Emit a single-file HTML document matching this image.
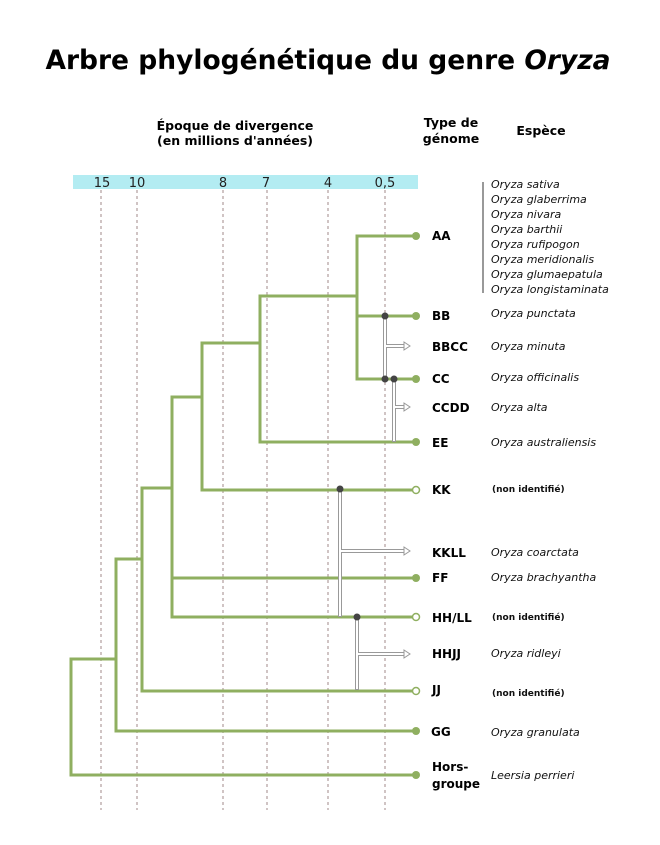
<!DOCTYPE html>
<html><head><meta charset="utf-8"><style>
html,body{margin:0;padding:0;background:#fff}
svg text{font-family:"DejaVu Sans","Liberation Sans",sans-serif}
.g{font-weight:bold;font-size:12px;fill:#000}
.s{font-style:italic;font-size:11px;fill:#111}
.n{font-weight:bold;font-size:9px;fill:#111}
</style></head><body>
<svg width="660" height="840" xmlns="http://www.w3.org/2000/svg">
<text x="328" y="69" text-anchor="middle" style="font-weight:bold;font-size:26.5px">Arbre phylogénétique du genre <tspan font-style="italic">Oryza</tspan></text>
<text x="235" y="130" text-anchor="middle" style="font-weight:bold;font-size:12.5px">Époque de divergence</text>
<text x="235" y="145" text-anchor="middle" style="font-weight:bold;font-size:12.5px">(en millions d'années)</text>
<text x="451" y="127" text-anchor="middle" style="font-weight:bold;font-size:12.5px">Type de</text>
<text x="451" y="143" text-anchor="middle" style="font-weight:bold;font-size:12.5px">génome</text>
<text x="541" y="135" text-anchor="middle" style="font-weight:bold;font-size:12.5px">Espèce</text>
<rect x="73" y="175" width="345" height="14" fill="#b3ecf2"/>
<g font-size="13" text-anchor="middle" fill="#222">
<text x="102" y="187">15</text><text x="137" y="187">10</text><text x="223" y="187">8</text><text x="266" y="187">7</text><text x="328" y="187">4</text><text x="385" y="187">0,5</text></g>
<g stroke="#a08a8a" stroke-width="1" stroke-dasharray="3,3">
<line x1="101" y1="190" x2="101" y2="810"/><line x1="137" y1="190" x2="137" y2="810"/><line x1="223" y1="190" x2="223" y2="810"/><line x1="267" y1="190" x2="267" y2="810"/><line x1="328" y1="190" x2="328" y2="810"/><line x1="385" y1="190" x2="385" y2="810"/></g>
<g stroke="#8faf60" stroke-width="3" fill="none">
<polyline points="416,236 357,236 357,379 416,379"/>
<line x1="357" y1="316" x2="416" y2="316"/>
<polyline points="357,296 260,296 260,442 416,442"/>
<polyline points="260,343 202,343 202,490 416,490"/>
<polyline points="202,397 172,397 172,617 416,617"/>
<line x1="172" y1="578" x2="416" y2="578"/>
<polyline points="172,488 142,488 142,691 416,691"/>
<polyline points="142,559 116,559 116,731 416,731"/>
<polyline points="116,659 71,659 71,775 416,775"/>
</g>
<g fill="#8faf60">
<circle cx="416" cy="236" r="4"/><circle cx="416" cy="316" r="4"/><circle cx="416" cy="379" r="4"/><circle cx="416" cy="442" r="4"/><circle cx="416" cy="578" r="4"/><circle cx="416" cy="731" r="4"/><circle cx="416" cy="775" r="4"/></g>
<g fill="#fff" stroke="#8faf60" stroke-width="1.5">
<circle cx="416" cy="490" r="3.5"/><circle cx="416" cy="617" r="3.5"/><circle cx="416" cy="691" r="3.5"/></g>
<g fill="none" stroke-linejoin="miter">
<g stroke="#999" stroke-width="4">
<line x1="385" y1="316" x2="385" y2="379"/><polyline points="385,346 405,346"/>
<line x1="394" y1="379" x2="394" y2="442"/><polyline points="394,407 405,407"/>
<line x1="340" y1="489" x2="340" y2="617"/><polyline points="340,551 405,551"/>
<line x1="357" y1="617" x2="357" y2="690"/><polyline points="357,654 405,654"/></g>
<g stroke="#fff" stroke-width="2">
<line x1="385" y1="317" x2="385" y2="378"/><polyline points="386,346 406,346"/>
<line x1="394" y1="380" x2="394" y2="441"/><polyline points="395,407 406,407"/>
<line x1="340" y1="490" x2="340" y2="616"/><polyline points="341,551 406,551"/>
<line x1="357" y1="618" x2="357" y2="689"/><polyline points="358,654 406,654"/></g>
</g>
<g fill="#fff" stroke="#999" stroke-width="1">
<polygon points="404,342 410,346 404,350"/><polygon points="404,403 410,407 404,411"/><polygon points="404,547 410,551 404,555"/><polygon points="404,650 410,654 404,658"/></g>
<g fill="#444"><circle cx="385" cy="316" r="3.5"/><circle cx="385" cy="379" r="3.5"/><circle cx="394" cy="379" r="3.5"/><circle cx="340" cy="489" r="3.5"/><circle cx="357" cy="617" r="3.5"/></g>
<g class="g">
<text x="432" y="240" class="g">AA</text><text x="432" y="320" class="g">BB</text><text x="432" y="351" class="g">BBCC</text><text x="432" y="383" class="g">CC</text><text x="432" y="412" class="g">CCDD</text><text x="432" y="447" class="g">EE</text><text x="432" y="494" class="g">KK</text><text x="432" y="557" class="g">KKLL</text><text x="432" y="582" class="g">FF</text><text x="432" y="622" class="g">HH/LL</text><text x="432" y="658" class="g">HHJJ</text><text x="432" y="694" class="g">JJ</text><text x="431" y="736" class="g">GG</text><text x="432" y="771" class="g">Hors-</text><text x="432" y="788" class="g">groupe</text></g>
<line x1="483" y1="182" x2="483" y2="293" stroke="#333" stroke-width="1"/>
<g class="s">
<text x="491" y="188" class="s">Oryza sativa</text><text x="491" y="203" class="s">Oryza glaberrima</text><text x="491" y="218" class="s">Oryza nivara</text><text x="491" y="233" class="s">Oryza barthii</text><text x="491" y="248" class="s">Oryza rufipogon</text><text x="491" y="263" class="s">Oryza meridionalis</text><text x="491" y="278" class="s">Oryza glumaepatula</text><text x="491" y="293" class="s">Oryza longistaminata</text>
<text x="491" y="317" class="s">Oryza punctata</text><text x="491" y="350" class="s">Oryza minuta</text><text x="491" y="381" class="s">Oryza officinalis</text><text x="491" y="411" class="s">Oryza alta</text><text x="491" y="446" class="s">Oryza australiensis</text><text x="491" y="556" class="s">Oryza coarctata</text><text x="491" y="581" class="s">Oryza brachyantha</text><text x="491" y="657" class="s">Oryza ridleyi</text><text x="491" y="736" class="s">Oryza granulata</text><text x="491" y="779" class="s">Leersia perrieri</text></g>
<text x="492" y="492" class="n">(non identifié)</text><text x="492" y="620" class="n">(non identifié)</text><text x="492" y="696" class="n">(non identifié)</text>
</svg>
</body></html>
